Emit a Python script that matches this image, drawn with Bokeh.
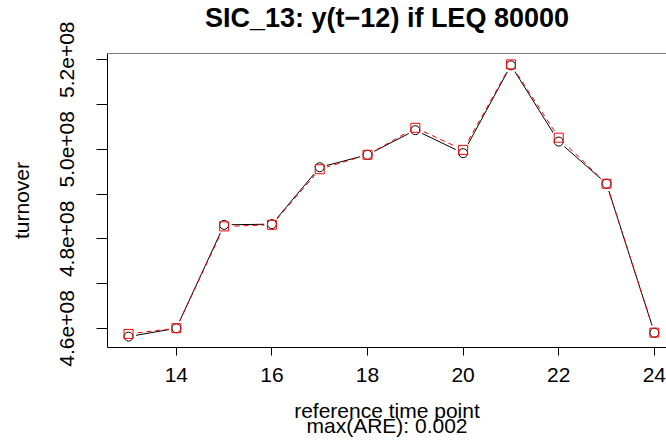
from bokeh.plotting import figure
from bokeh.models import Range1d, FixedTicker, ColumnDataSource, Span, LinearAxis
from bokeh.embed import file_html
from bokeh.resources import INLINE

# ---- data ----
time_points = [13, 14, 15, 16, 17, 18, 19, 20, 21, 22, 23, 24]
observed = [4.5817e8, 4.6003e8, 4.8313e8, 4.8328e8, 4.9599e8, 4.9877e8,
            5.0427e8, 4.9914e8, 5.1874e8, 5.0172e8, 4.9231e8, 4.5905e8]
estimated = [4.5877e8, 4.6005e8, 4.8278e8, 4.8313e8, 4.9555e8, 4.9877e8,
             5.0480e8, 4.9987e8, 5.1896e8, 5.0260e8, 4.9231e8, 4.5905e8]
x_ticks = [14, 16, 18, 20, 22, 24]
y_ticks = [4.6e8, 4.7e8, 4.8e8, 4.9e8, 5.0e8, 5.1e8, 5.2e8]
y_tick_labels = ["4.6e+08", "", "4.8e+08", "", "5.0e+08", "", "5.2e+08"]

title_text = "SIC_13: y(t\u221212) if LEQ 80000"
x_label = "reference time point\nmax(ARE): 0.002"
y_label = "turnover"

FONT = "Liberation Sans"

# R-style 4% padding of the ranges
xmin, xmax = min(time_points), max(time_points)
xpad = 0.04 * (xmax - xmin)
ally = observed + estimated
ymin, ymax = min(ally), max(ally)
ypad = 0.04 * (ymax - ymin)

W, H = 666, 440
LEFT, RIGHT, TOP, BOTTOM = 107, 0, 53, 89
frame_w = W - LEFT - RIGHT
# the reference's plot box runs past the right edge of the picture
unit_px = 47.8
x_start = xmin - xpad
x_end = x_start + frame_w / unit_px
y_start, y_end = ymin - ypad, ymax + ypad

p = figure(width=W, height=H, output_backend="svg", toolbar_location=None,
           x_range=Range1d(x_start, x_end), y_range=Range1d(y_start, y_end),
           min_border_left=LEFT, min_border_right=RIGHT,
           min_border_top=TOP, min_border_bottom=BOTTOM,
           x_axis_location="below", y_axis_location="left")
p.outline_line_color = None
p.background_fill_color = "white"
p.border_fill_color = "white"
p.xgrid.visible = False
p.ygrid.visible = False

p.title.text = title_text
p.title.align = "center"
p.title.vertical_align = "top"
p.title.text_font = FONT
p.title.text_font_size = "27px"
p.title.text_font_style = "bold"
p.title.text_color = "black"
p.title.text_line_height = 1.0
p.title.standoff = 0

# x axis
xa = p.xaxis[0]
xa.ticker = FixedTicker(ticks=x_ticks)
xa.minor_tick_line_color = None
xa.major_tick_in = 0
xa.major_tick_out = 8
xa.axis_line_color = "black"
xa.major_tick_line_color = "black"
xa.major_label_text_font = FONT
xa.major_label_text_font_size = "21px"
xa.major_label_text_color = "black"
xa.major_label_standoff = 12
xa.axis_label = x_label
xa.axis_label_text_font = FONT
xa.axis_label_text_font_size = "21px"
xa.axis_label_text_font_style = "normal"
xa.axis_label_text_color = "black"
xa.axis_label_text_line_height = 0.68
xa.axis_label_standoff = 14

# y axis
ya = p.yaxis[0]
ya.ticker = FixedTicker(ticks=y_ticks)
ya.major_label_overrides = {t: l for t, l in zip(y_ticks, y_tick_labels)}
ya.minor_tick_line_color = None
ya.major_tick_in = 0
ya.major_tick_out = 11
ya.axis_line_color = "black"
ya.major_tick_line_color = "black"
ya.major_label_orientation = "parallel"
ya.major_label_text_font = FONT
ya.major_label_text_font_size = "21px"
ya.major_label_text_color = "black"
ya.major_label_standoff = 22
ya.axis_label = y_label
ya.axis_label_text_font = FONT
ya.axis_label_text_font_size = "21px"
ya.axis_label_text_font_style = "normal"
ya.axis_label_text_color = "black"
ya.axis_label_standoff = 25

# empty spacer between the title and the box
spacer = LinearAxis(ticker=FixedTicker(ticks=[]), axis_line_color=None,
                    major_tick_line_color=None, minor_tick_line_color=None,
                    major_tick_in=0, major_tick_out=0,
                    major_label_text_color=None, major_label_standoff=0,
                    axis_label=" ", axis_label_text_font_size="14px",
                    axis_label_text_color=None, axis_label_standoff=0)
p.add_layout(spacer, "above")

# top border of the box
p.add_layout(Span(location=y_end, dimension="width", line_color="black", line_width=1))

src = ColumnDataSource(dict(t=time_points, obs=observed, est=estimated))

p.line("t", "obs", source=src, line_color="black", line_width=1)
p.line("t", "est", source=src, line_color="red", line_width=1, line_dash="5 4")
# gaps round the points (R type="b")
p.scatter("t", "obs", source=src, marker="circle", size=15, fill_color="white", line_color=None)
p.scatter("t", "est", source=src, marker="circle", size=15, fill_color="white", line_color=None)
p.scatter("t", "obs", source=src, marker="circle", size=9, fill_color=None, line_color="black", line_width=1)
p.scatter("t", "est", source=src, marker="square", size=9, fill_color=None, line_color="red", line_width=1)

open("out.html", "w").write(file_html(p, INLINE))
